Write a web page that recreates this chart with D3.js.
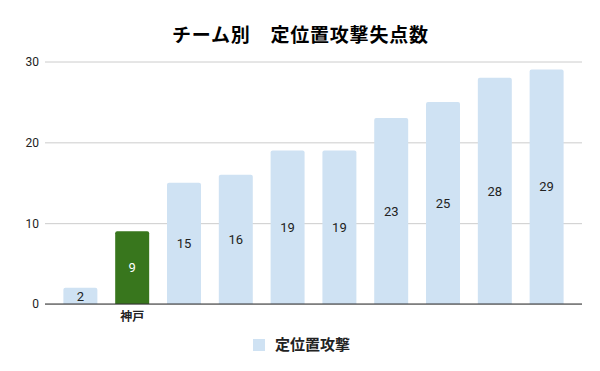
<!DOCTYPE html>
<html>
<head>
<meta charset="utf-8">
<script src="https://cdn.jsdelivr.net/npm/d3@7"></script>
<style>
  body { margin: 0; background: #fff; }
  svg { display: block; font-family: Roboto, "Noto Sans CJK JP", sans-serif; }
</style>
</head>
<body>
<div id="chart"></div>
<script>
// only the highlighted team carries a visible label in the source chart
const teams = ["", "神戸", "", "", "", "", "", "", "", ""];
const values = [2, 9, 15, 16, 19, 19, 23, 25, 28, 29];
const highlight = "神戸";
const yTicks = [0, 10, 20, 30];
const seriesName = "定位置攻撃";
const title = "チーム別　定位置攻撃失点数";

const width = 600, height = 371;
const margin = {top: 61.5, right: 18, bottom: 67, left: 45};

const svg = d3.select("#chart").append("svg")
    .attr("width", width)
    .attr("height", height);

const x = d3.scaleBand()
    .domain(d3.range(values.length))
    .range([margin.left, width - margin.right])
    .paddingInner(0.344)
    .paddingOuter(0.355);

const y = d3.scaleLinear()
    .domain([0, 30])
    .range([height - margin.bottom, margin.top]);

// gridlines + y labels
svg.append("g")
    .attr("transform", `translate(${margin.left},0)`)
    .call(d3.axisLeft(y).tickValues(yTicks).tickSize(-(width - margin.left - margin.right)).tickPadding(6))
    .call(g => g.select(".domain").remove())
    .call(g => g.selectAll(".tick line").attr("stroke", "#cccccc"))
    .call(g => g.selectAll(".tick text")
      .attr("font-size", 12)
      .attr("fill", "#222")
      .attr("font-family", "Roboto, sans-serif"));

const bars = svg.append("g")
  .selectAll("g")
  .data(values)
  .join("g");

bars.append("path")
    .attr("fill", (d, i) => teams[i] === highlight ? "#38761d" : "#cfe2f3")
    .attr("d", (d, i) => {
      const x0 = x(i), w = x.bandwidth(), y0 = y(d), y1 = y(0), r = 2;
      return `M${x0},${y1}V${y0 + r}Q${x0},${y0} ${x0 + r},${y0}H${x0 + w - r}Q${x0 + w},${y0} ${x0 + w},${y0 + r}V${y1}Z`;
    });

bars.append("text")
    .attr("x", (d, i) => x(i) + x.bandwidth() / 2)
    .attr("y", d => (y(d) + y(0)) / 2)
    .attr("dy", "0.36em")
    .attr("text-anchor", "middle")
    .attr("font-size", 13)
    .attr("fill", (d, i) => teams[i] === highlight ? "#ffffff" : "#222222")
    .text(d => d);

// baseline
svg.append("line")
    .attr("x1", margin.left)
    .attr("x2", width - margin.right)
    .attr("y1", y(0))
    .attr("y2", y(0))
    .attr("stroke", "#333333");

// category labels
svg.append("g")
  .selectAll("text")
  .data(teams)
  .join("text")
    .attr("x", (d, i) => x(i) + x.bandwidth() / 2)
    .attr("y", y(0) + 17)
    .attr("text-anchor", "middle")
    .attr("font-size", 12)
    .attr("font-weight", "bold")
    .attr("font-family", "'Noto Sans CJK JP', sans-serif")
    .attr("fill", "#222")
    .text(d => d);

// title
svg.append("text")
    .attr("x", 172)
    .attr("y", 42)
    .attr("font-size", 19)
    .attr("font-weight", "bold")
    .attr("font-family", "'Noto Sans CJK JP', sans-serif")
    .attr("fill", "#000")
    .attr("textLength", 256)
    .attr("lengthAdjust", "spacing")
    .text(title);

// legend
const legend = svg.append("g").attr("transform", "translate(253,339)");
legend.append("rect")
    .attr("width", 12)
    .attr("height", 12)
    .attr("fill", "#cfe2f3");
legend.append("text")
    .attr("x", 22)
    .attr("y", 6)
    .attr("dy", "0.36em")
    .attr("font-size", 15)
    .attr("font-weight", "bold")
    .attr("font-family", "'Noto Sans CJK JP', sans-serif")
    .attr("fill", "#222")
    .text(seriesName);
</script>
</body>
</html>
